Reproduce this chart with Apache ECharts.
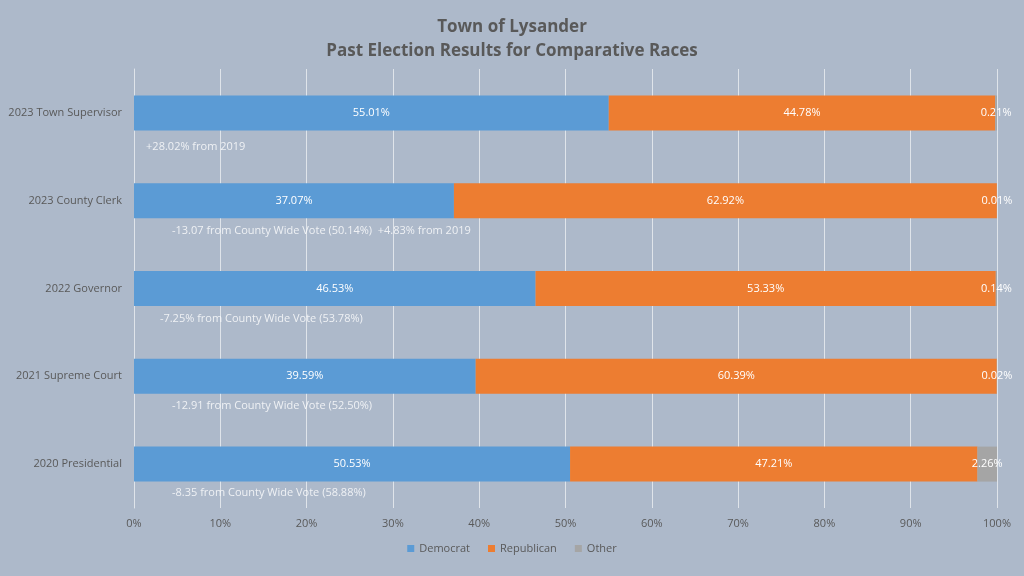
<!DOCTYPE html>
<html><head><meta charset="utf-8">
<script src="https://cdn.jsdelivr.net/npm/echarts@6/dist/echarts.min.js"></script>
<style>html,body{margin:0;padding:0;background:#adb9ca}#c{width:1024px;height:576px}</style>
</head><body><div id="c"></div>
<script>
const categories = ['2023 Town Supervisor','2023 County Clerk','2022 Governor','2021 Supreme Court','2020 Presidential'];
const democrat = [55.01, 37.07, 46.53, 39.59, 50.53];
const republican = [44.78, 62.92, 53.33, 60.39, 47.21];
const other = [0.21, 0.01, 0.14, 0.02, 2.26];
const notes = ['+28.02% from 2019','-13.07 from County Wide Vote (50.14%)  +4.83% from 2019','-7.25% from County Wide Vote (53.78%)','-12.91 from County Wide Vote (52.50%)','-8.35 from County Wide Vote (58.88%)'];
const noteX = [1.4, 4.4, 3.0, 4.4, 4.4];
const noteOffset = [34, 30, 30, 30, 29];

const font = 'Open Sans, Liberation Sans, sans-serif';
const chart = echarts.init(document.getElementById('c'));
const lbl = {show:true, position:'inside', color:'#ffffff', fontSize:11, fontFamily:font, formatter: p => p.value.toFixed(2)+'%'};
chart.setOption({
  backgroundColor:'#adb9ca',
  animation:false,
  title:{text:'Town of Lysander\nPast Election Results for Comparative Races', left:'center', top:10,
    textStyle:{color:'#595959', fontSize:17, fontWeight:'bold', fontFamily:font, lineHeight:24}},
  legend:{bottom:17, left:'center', itemWidth:7, itemHeight:7, itemGap:18, icon:'rect',
    textStyle:{color:'#595959', fontSize:11, fontFamily:font},
    data:['Democrat','Republican','Other']},
  grid:{left:134, right:27, top:69, bottom:68},
  xAxis:{type:'value', min:0, max:100, interval:10,
    axisLabel:{formatter:'{value}%', color:'#595959', fontSize:11, fontFamily:font, margin:10},
    splitLine:{lineStyle:{color:'#dfe4ea', width:1}}, axisLine:{show:false}, axisTick:{show:false}},
  yAxis:{type:'category', data:categories, inverse:true,
    axisLabel:{color:'#595959', fontSize:11, fontFamily:font, margin:12},
    axisLine:{show:true, lineStyle:{color:'#dfe4ea'}}, axisTick:{show:false}},
  series:[
    {name:'Democrat', type:'bar', stack:'t', data:democrat, barWidth:35, itemStyle:{color:'#5b9bd5'}, label:lbl},
    {name:'Republican', type:'bar', stack:'t', data:republican, barWidth:35, itemStyle:{color:'#ed7d31'}, label:lbl},
    {name:'Other', type:'bar', stack:'t', data:other, barWidth:35, itemStyle:{color:'#a5a5a5'}, label:lbl},
    {name:'notes', type:'scatter', symbolSize:0, silent:true, legendHoverLink:false,
      data: categories.map((c,i)=>({value:[noteX[i], c], label:{show:true, position:'right', distance:0, offset:[0,noteOffset[i]], formatter:notes[i], color:'#ffffff', fontSize:11, fontFamily:font}})),
      z:5}
  ]
});
</script></body></html>
